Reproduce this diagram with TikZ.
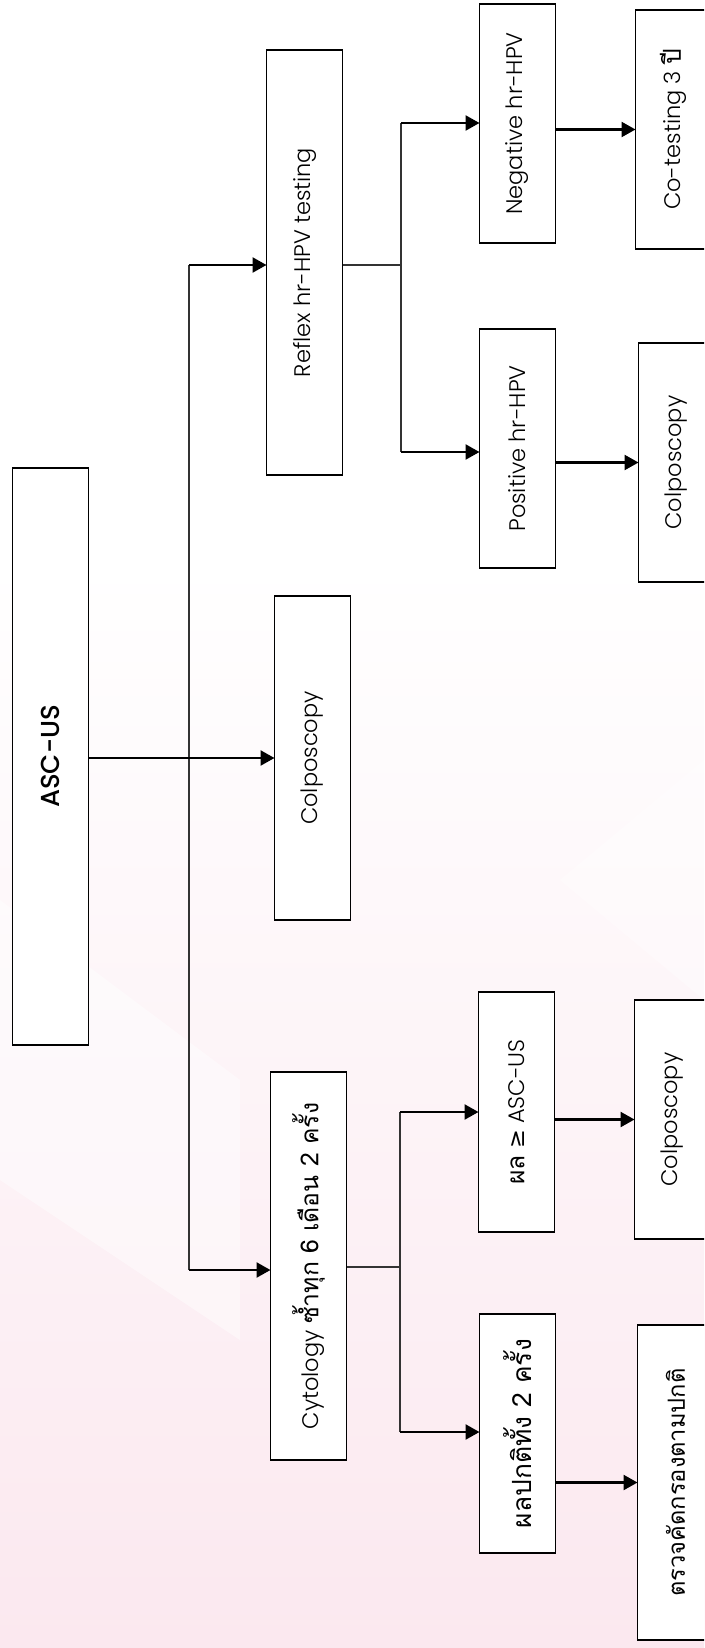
\documentclass[tikz,border=0pt]{standalone}
\usepackage{fontspec}
\usetikzlibrary{arrows.meta}
\setmainfont{Poppins Light}
\newfontfamily\mediumfont{Poppins Medium}
\newfontfamily\thaifont[Script=Thai,Scale=1.1]{Loma}
\newfontfamily\symfont{DejaVu Sans}
\definecolor{pinkbg}{RGB}{251,232,239}
\begin{document}
\begin{tikzpicture}[x=1pt,y=-1pt,
  box/.style={draw=black,line width=1.3pt,fill=white,inner sep=0pt,outer sep=0pt,
              minimum width=76pt,font=\fontsize{22.5}{26}\selectfont},
  arr/.style={line width=2.4pt,-{Triangle[length=14pt,width=15pt]}},
  link/.style={line width=1.1pt,draw=black!80}]
% page and soft background
\useasboundingbox (0,0) rectangle (704,1648);
\clip (0,0) rectangle (704,1648);
\fill[white] (0,0) rectangle (704,1648);
\shade[top color=white,bottom color=pinkbg] (0,560) rectangle (704,1648);
\fill[white,opacity=0.45] (0,900) -- (240,1080) -- (240,1340) -- (0,1180) -- cycle;
\fill[white,opacity=0.35] (560,880) -- (704,760) -- (704,1000) -- cycle;

% boxes
\node[box,minimum height=577pt] (asc)    at (50.5,756.5) {\rotatebox{90}{\fontsize{26}{30}\mediumfont ASC-US}};
\node[box,minimum height=324pt] (colpM)  at (312.5,758) {\rotatebox{90}{Colposcopy}};
\node[box,minimum height=425pt] (reflex) at (304.5,262.5) {\rotatebox{90}{Reflex hr-HPV testing}};
\node[box,minimum height=388pt] (cyto)   at (308.5,1266) {\rotatebox{90}{Cytology {\thaifont ซ้ำทุก 6 เดือน 2 ครั้ง}}};
\node[box,minimum height=239pt] (neg)    at (517.5,123.5) {\rotatebox{90}{Negative hr-HPV}};
\node[box,minimum height=239pt] (pos)    at (517.5,448.5) {\rotatebox{90}{Positive hr-HPV}};
\node[box,minimum height=239pt] (cotest) at (673.5,129.5) {\rotatebox{90}{Co-testing 3 {\thaifont ปี}}};
\node[box,minimum height=239pt] (colpA)  at (676.5,462.5) {\rotatebox{90}{Colposcopy}};
\node[box,minimum height=240pt] (high)   at (516.5,1112) {\rotatebox{90}{{\thaifont ผล} {\symfont ≥} ASC-US}};
\node[box,minimum height=239pt] (colpB)  at (672.5,1119.5) {\rotatebox{90}{Colposcopy}};
\node[box,minimum height=239pt] (normal) at (517.5,1433.5) {\rotatebox{90}{\fontsize{24}{28}\thaifont ผลปกติทั้ง 2 ครั้ง}};
\node[box,minimum height=315pt] (screen) at (675.5,1482.5) {\rotatebox{90}{\fontsize{21.5}{25}\thaifont ตรวจคัดกรองตามปกติ}};

% trunk from ASC-US to the two follow-up strategies
\coordinate (tTop) at (189,265);
\coordinate (tBot) at (189,1270);
\draw[link] (tTop) -- (tBot);
\draw[arr] (tTop) -- (tTop -| reflex.west);
\draw[arr] (tBot) -- (tBot -| cyto.west);
\draw[arr] (asc.east |- colpM.west) -- (colpM.west);

% reflex hr-HPV branch
\coordinate (rMid) at (401,265);
\coordinate (rTop) at (401,123);
\coordinate (rBot) at (401,452);
\draw[link] (reflex.east |- rMid) -- (rMid);
\draw[link] (rTop) -- (rBot);
\draw[arr] (rTop) -- (rTop -| neg.west);
\draw[arr] (rBot) -- (rBot -| pos.west);
\draw[arr] (neg.east |- cotest.west) -- (cotest.west);
\draw[arr] (pos.east |- colpA.west) -- (colpA.west);

% repeat cytology branch
\coordinate (cMid) at (400,1267);
\coordinate (cTop) at (400,1112);
\coordinate (cBot) at (400,1432);
\draw[link] (cyto.east |- cMid) -- (cMid);
\draw[link] (cTop) -- (cBot);
\draw[arr] (cTop) -- (cTop -| high.west);
\draw[arr] (cBot) -- (cBot -| normal.west);
\draw[arr] (high.east |- colpB.west) -- (colpB.west);
\draw[arr] (normal.east |- screen.west) -- (screen.west);
\end{tikzpicture}
\end{document}
